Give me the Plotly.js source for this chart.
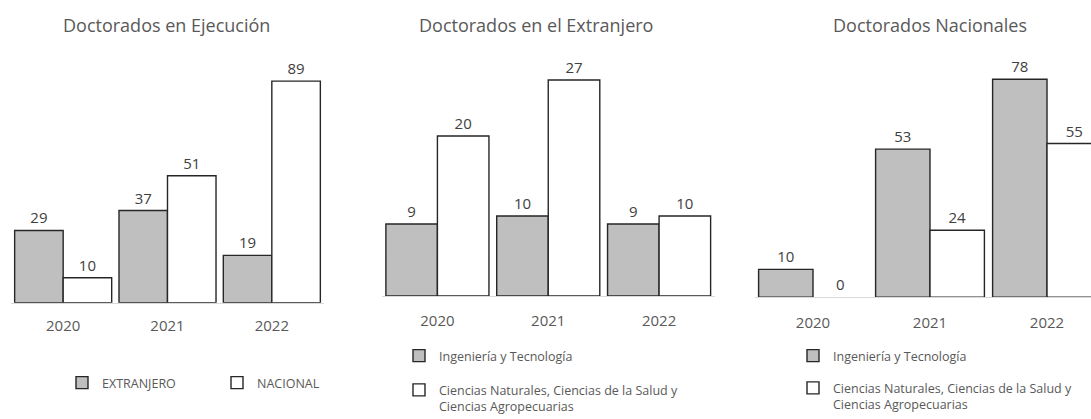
<!DOCTYPE html>
<html>
<head>
<meta charset="utf-8">
<script src="https://cdn.plot.ly/plotly-3.0.1.min.js"></script>
<style>html,body{margin:0;padding:0;background:#fff;}#chart{width:1091px;height:419px;}</style>
</head>
<body>
<div id="chart"></div>
<script>
const years = ['2020', '2021', '2022'];
const ejecExtranjero = [29, 37, 19];
const ejecNacional = [10, 51, 89];
const extIngenieria = [9, 10, 9];
const extCiencias = [20, 27, 10];
const nacIngenieria = [10, 53, 78];
const nacCiencias = [0, 24, 55];

const titles = ['Doctorados en Ejecución', 'Doctorados en el Extranjero', 'Doctorados Nacionales'];
const nameExt = 'EXTRANJERO';
const nameNac = 'NACIONAL';
const nameIng = 'Ingeniería y Tecnología';
const nameCie = 'Ciencias Naturales, Ciencias de la Salud y<br>Ciencias Agropecuarias';

const FONT = 'Open Sans, sans-serif';
const GREY = '#bfbfbf';
const EDGE = '#262626';

function bar(x, y, name, fill, xa, ya, leg, grp) {
  // put non-zero points first so the legend symbol takes a visible outline;
  // zero-height bars get no outline (nothing is drawn there in the reference)
  const idx = x.map((_, i) => i).sort((a, b) => (y[a] === 0) - (y[b] === 0));
  const xs = idx.map(i => x[i]);
  const ys = idx.map(i => y[i]);
  return {
    type: 'bar', x: xs, y: ys, name: name,
    xaxis: xa, yaxis: ya, legend: leg, legendgroup: grp,
    marker: {color: fill, line: {color: EDGE, width: ys.map(v => v === 0 ? 0 : 1.4)}},
    texttemplate: '%{y}', textposition: 'outside', cliponaxis: false,
    textfont: {family: FONT, size: 15, color: '#404040'},
    hoverinfo: 'x+y+name'
  };
}

const data = [
  bar(years, ejecExtranjero, nameExt, GREY, 'x', 'y', 'legend', 'a1'),
  bar(years, ejecNacional, nameNac, '#ffffff', 'x', 'y', 'legend', 'b1'),
  bar(years, extIngenieria, nameIng, GREY, 'x2', 'y2', 'legend2', 'a2'),
  bar(years, extCiencias, nameCie, '#ffffff', 'x2', 'y2', 'legend2', 'b2'),
  bar(years, nacIngenieria, nameIng, GREY, 'x3', 'y3', 'legend3', 'a3'),
  bar(years, nacCiencias, nameCie, '#ffffff', 'x3', 'y3', 'legend3', 'b3')
];

const W = 1091, H = 419;
const px = v => v / W;
const py = v => (H - v) / H;

function xax(d0, d1, r0, r1, anchor, standoff) {
  return {
    domain: [px(d0), px(d1)], range: [r0, r1], type: 'category', anchor: anchor,
    categoryorder: 'array', categoryarray: years,
    showline: true, linecolor: '#d9d9d9', linewidth: 1, showgrid: false, zeroline: false,
    ticks: '', ticklabelstandoff: standoff, fixedrange: true,
    tickfont: {family: FONT, size: 15, color: '#595959'}
  };
}
function yax(bottom, top, maxv, anchor) {
  return {
    domain: [py(bottom), py(top)], range: [0, maxv], anchor: anchor,
    visible: false, showgrid: false, zeroline: false, fixedrange: true
  };
}
function leg(x, y, horiz, gap) {
  const l = {
    x: px(x), y: py(y), xanchor: 'left', yanchor: 'top',
    font: {family: FONT, size: 12.5, color: '#595959'},
    bgcolor: 'rgba(0,0,0,0)', valign: 'top', traceorder: 'grouped', tracegroupgap: gap
  };
  if (horiz) { l.orientation = 'h'; l.entrywidth = 110; l.entrywidthmode = 'pixels'; }
  return l;
}
function title(text, x) {
  return {text: text, x: px(x), y: py(25), xref: 'paper', yref: 'paper', xanchor: 'center', yanchor: 'middle',
    showarrow: false, font: {family: FONT, size: 18, color: '#595959'}};
}

const layout = {
  width: W, height: H, margin: {l: 0, r: 0, t: 0, b: 0, autoexpand: false},
  paper_bgcolor: '#ffffff', plot_bgcolor: 'rgba(0,0,0,0)',
  barmode: 'group', bargap: 0.07, bargroupgap: 0,
  xaxis: xax(11, 324, -0.5, 2.5, 'y', 9),
  yaxis: yax(302.7, 60, 97.47, 'x'),
  xaxis2: xax(382, 714.5, -0.5, 2.5, 'y2', 11),
  yaxis2: yax(296, 60, 29.5, 'x2'),
  xaxis3: xax(754.5, 1091, -0.5, 2.376, 'y3', 12),
  yaxis3: yax(297.3, 60, 84.9, 'x3'),
  legend: leg(62, 368, true, 0),
  legend2: leg(399, 341, false, 15),
  legend3: leg(793, 341, false, 13),
  annotations: [title(titles[0], 166), title(titles[1], 536), title(titles[2], 930)],
  showlegend: true
};

Plotly.newPlot('chart', data, layout, {displayModeBar: false, staticPlot: true});
</script>
</body>
</html>
